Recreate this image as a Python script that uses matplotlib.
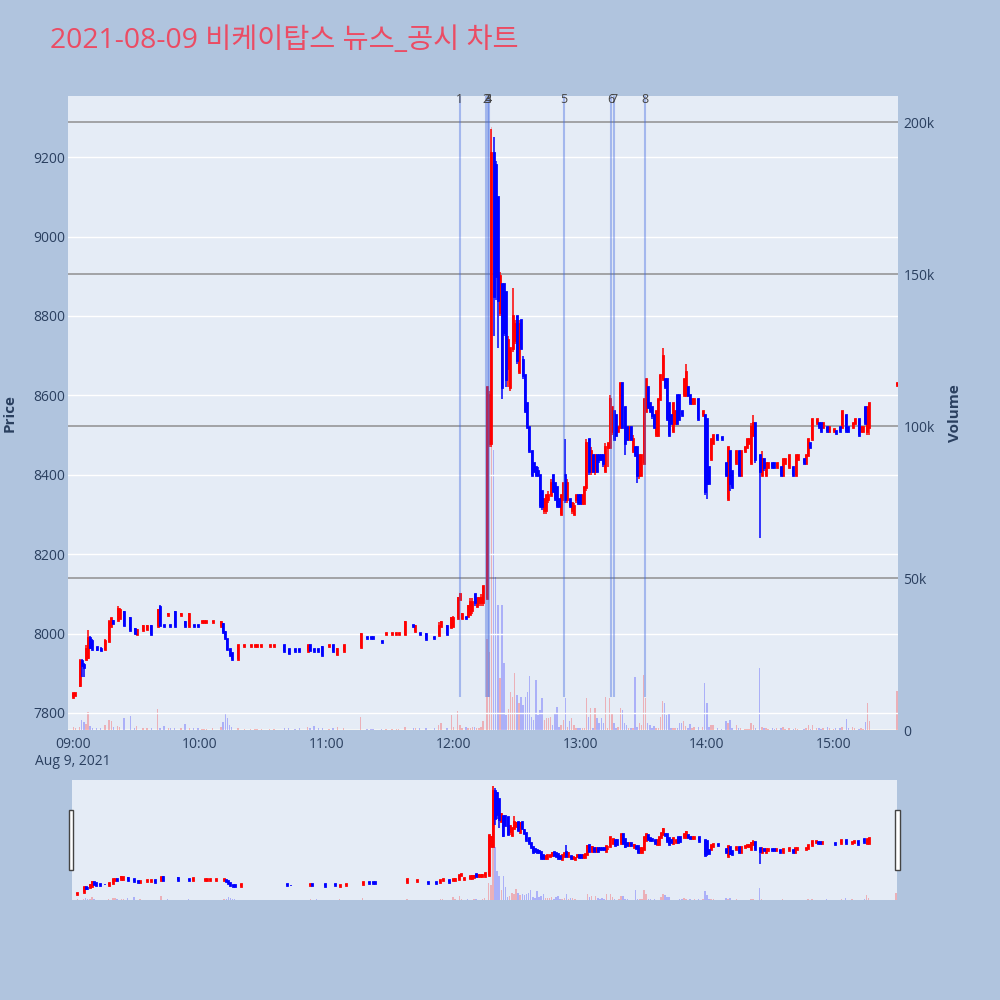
import matplotlib
matplotlib.use("Agg")
import matplotlib.pyplot as plt
import matplotlib.transforms as mtransforms
from matplotlib.patches import Rectangle

TITLE = "2021-08-09 비케이탑스 뉴스_공시 차트"

# minutes after 09:00, one candle per traded minute
minute = [
    0, 1, 3, 4, 5, 6, 7, 8, 9, 11,
    13, 15, 17, 18, 19, 21, 22, 24, 27, 29,
    30, 33, 35, 37, 40, 41, 43, 45, 46, 48,
    51, 53, 55, 57, 59, 61, 62, 63, 66, 70,
    71, 72, 73, 74, 75, 78, 81, 84, 86, 87,
    89, 93, 95, 100, 102, 105, 107, 111, 112, 114,
    116, 118, 121, 123, 125, 128, 136, 139, 141, 142,
    146, 148, 151, 153, 154, 157, 161, 162, 164, 167,
    171, 173, 174, 177, 179, 180, 182, 183, 184, 186,
    187, 188, 189, 190, 191, 192, 193, 194, 196, 197,
    198, 199, 200, 201, 202, 203, 204, 205, 206, 207,
    208, 209, 210, 211, 212, 213, 214, 215, 216, 217,
    218, 219, 220, 221, 222, 223, 224, 225, 226, 227,
    228, 229, 230, 231, 232, 233, 234, 235, 236, 237,
    238, 239, 240, 241, 242, 243, 244, 245, 246, 247,
    248, 249, 250, 251, 252, 253, 254, 255, 256, 257,
    258, 259, 260, 261, 262, 263, 264, 265, 266, 267,
    268, 269, 270, 271, 272, 273, 274, 275, 276, 277,
    278, 279, 280, 281, 282, 283, 284, 285, 286, 287,
    288, 289, 290, 291, 292, 293, 294, 296, 298, 299,
    300, 301, 302, 303, 305, 307, 309, 310, 311, 312,
    314, 315, 316, 318, 319, 320, 321, 322, 323, 325,
    326, 327, 328, 329, 331, 332, 333, 335, 336, 337,
    339, 341, 342, 343, 346, 347, 348, 349, 350, 352,
    353, 354, 355, 357, 358, 360, 361, 363, 364, 366,
    367, 369, 370, 372, 373, 374, 375, 376, 377, 390,
]

open_ = [
    7840, 7845, 7870, 7930, 7920, 7935, 7940, 7990, 7980, 7965,
    7962, 7960, 7980, 8020, 8032, 8035, 8040, 8055, 8040, 8012,
    8000, 8010, 8012, 8020, 8020, 8068, 8022, 8046, 8022, 8055,
    8046, 8030, 8020, 8022, 8022, 8028, 8028, 8028, 8028, 8020,
    8025, 8005, 7985, 7960, 7950, 7937, 7968, 7968, 7968, 7968,
    7968, 7968, 7968, 7970, 7960, 7960, 7960, 7957, 7970, 7960,
    7960, 7966, 7968, 7970, 7948, 7957, 7966, 7992, 7992, 7992,
    7982, 7998, 7998, 7998, 7998, 8000, 8022, 8007, 8002, 8000,
    7992, 7997, 8020, 8020, 8017, 8020, 8040, 8088, 8038, 8042,
    8045, 8050, 8060, 8100, 8070, 8080, 8080, 8080, 8090, 8480,
    8480, 9210, 9180, 9100, 8810, 8880, 8880, 8860, 8670, 8620,
    8720, 8740, 8800, 8660, 8790, 8690, 8650, 8580, 8520, 8460,
    8430, 8420, 8410, 8400, 8360, 8310, 8310, 8340, 8350, 8400,
    8380, 8370, 8340, 8300, 8340, 8400, 8340, 8340, 8310, 8300,
    8340, 8350, 8350, 8330, 8330, 8370, 8490, 8410, 8450, 8410,
    8450, 8450, 8450, 8450, 8410, 8470, 8470, 8510, 8560, 8550,
    8510, 8520, 8630, 8570, 8520, 8490, 8520, 8460, 8470, 8470,
    8400, 8400, 8430, 8560, 8620, 8580, 8570, 8550, 8500, 8500,
    8590, 8640, 8640, 8640, 8580, 8550, 8510, 8530, 8600, 8600,
    8560, 8600, 8600, 8620, 8600, 8580, 8580, 8590, 8550, 8550,
    8540, 8420, 8440, 8480, 8500, 8495, 8430, 8340, 8460, 8410,
    8430, 8460, 8400, 8460, 8470, 8480, 8430, 8500, 8530, 8450,
    8400, 8440, 8400, 8420, 8430, 8430, 8420, 8420, 8400, 8430,
    8420, 8420, 8400, 8440, 8440, 8430, 8450, 8480, 8490, 8530,
    8530, 8530, 8520, 8520, 8510, 8510, 8510, 8520, 8520, 8550,
    8520, 8520, 8530, 8540, 8510, 8510, 8570, 8510, 8520, 8625,
]

high = [
    7850, 7850, 7935, 7935, 7925, 7970, 8010, 7995, 7985, 7965,
    7965, 7985, 8035, 8040, 8035, 8070, 8065, 8058, 8042, 8014,
    8012, 8022, 8022, 8022, 8062, 8072, 8022, 8052, 8022, 8058,
    8052, 8032, 8052, 8022, 8022, 8032, 8032, 8032, 8032, 8032,
    8026, 8006, 7986, 7962, 7952, 7972, 7972, 7972, 7972, 7972,
    7972, 7972, 7972, 7972, 7962, 7960, 7960, 7972, 7972, 7960,
    7960, 7968, 7972, 7972, 7963, 7972, 8002, 7992, 7992, 7992,
    7982, 8002, 8002, 8002, 8002, 8032, 8022, 8022, 8002, 8002,
    7992, 8028, 8032, 8022, 8041, 8045, 8092, 8102, 8052, 8042,
    8072, 8090, 8090, 8100, 8090, 8090, 8100, 8120, 8620, 8610,
    9270, 9250, 9190, 9100, 8910, 8880, 8880, 8860, 8750, 8720,
    8870, 8790, 8800, 8790, 8790, 8700, 8650, 8580, 8520, 8460,
    8430, 8420, 8420, 8400, 8360, 8340, 8350, 8360, 8390, 8400,
    8380, 8370, 8340, 8350, 8380, 8490, 8390, 8340, 8330, 8330,
    8350, 8350, 8350, 8350, 8370, 8490, 8490, 8470, 8450, 8450,
    8450, 8450, 8450, 8450, 8480, 8480, 8600, 8570, 8560, 8550,
    8520, 8630, 8630, 8570, 8520, 8520, 8520, 8500, 8470, 8470,
    8450, 8450, 8590, 8640, 8620, 8580, 8570, 8550, 8560, 8590,
    8650, 8720, 8640, 8640, 8580, 8550, 8580, 8560, 8600, 8600,
    8560, 8640, 8680, 8620, 8600, 8590, 8590, 8590, 8560, 8550,
    8540, 8420, 8490, 8500, 8500, 8495, 8430, 8470, 8460, 8410,
    8460, 8460, 8460, 8470, 8490, 8490, 8530, 8550, 8530, 8450,
    8460, 8440, 8430, 8430, 8430, 8430, 8430, 8420, 8440, 8440,
    8450, 8420, 8450, 8450, 8440, 8450, 8490, 8480, 8540, 8540,
    8530, 8530, 8530, 8520, 8520, 8515, 8510, 8520, 8560, 8550,
    8520, 8530, 8540, 8540, 8520, 8520, 8570, 8570, 8580, 8630,
]

low = [
    7840, 7845, 7865, 7890, 7890, 7935, 7935, 7960, 7960, 7955,
    7955, 7958, 7978, 8018, 8025, 8033, 8038, 8020, 8008, 8000,
    7998, 8008, 8010, 8000, 8018, 8018, 8018, 8046, 8018, 8018,
    8046, 8018, 8018, 8018, 8018, 8028, 8028, 8028, 8028, 8018,
    8005, 7988, 7958, 7945, 7937, 7937, 7968, 7968, 7968, 7968,
    7968, 7968, 7968, 7955, 7948, 7956, 7956, 7955, 7956, 7956,
    7956, 7945, 7968, 7956, 7946, 7955, 7966, 7988, 7988, 7988,
    7978, 7998, 7998, 7998, 7998, 7997, 8018, 8006, 7998, 7986,
    7988, 7996, 8018, 7999, 8015, 8018, 8038, 8086, 8036, 8038,
    8043, 8050, 8050, 8070, 8070, 8070, 8070, 8070, 8090, 8470,
    8470, 8750, 8840, 8720, 8800, 8590, 8750, 8620, 8620, 8610,
    8710, 8730, 8680, 8660, 8720, 8640, 8560, 8520, 8460, 8400,
    8410, 8400, 8400, 8320, 8310, 8300, 8300, 8330, 8350, 8360,
    8340, 8320, 8320, 8300, 8340, 8330, 8330, 8320, 8300, 8300,
    8330, 8330, 8330, 8330, 8330, 8360, 8400, 8400, 8410, 8400,
    8410, 8430, 8440, 8420, 8410, 8420, 8470, 8500, 8490, 8500,
    8510, 8520, 8520, 8450, 8490, 8490, 8490, 8460, 8450, 8380,
    8390, 8400, 8430, 8560, 8570, 8560, 8540, 8520, 8500, 8500,
    8590, 8640, 8620, 8540, 8500, 8530, 8510, 8530, 8530, 8540,
    8550, 8600, 8600, 8600, 8580, 8580, 8580, 8540, 8550, 8350,
    8340, 8380, 8440, 8480, 8490, 8490, 8400, 8340, 8360, 8370,
    8430, 8400, 8400, 8460, 8470, 8480, 8430, 8500, 8430, 8240,
    8400, 8410, 8400, 8420, 8420, 8420, 8420, 8400, 8400, 8430,
    8420, 8400, 8400, 8440, 8430, 8430, 8450, 8470, 8490, 8530,
    8520, 8510, 8520, 8510, 8510, 8510, 8505, 8510, 8520, 8510,
    8510, 8520, 8530, 8500, 8510, 8510, 8530, 8500, 8500, 8625,
]

close = [
    7850, 7850, 7930, 7920, 7915, 7960, 7990, 7965, 7960, 7960,
    7958, 7980, 8030, 8038, 8027, 8062, 8060, 8022, 8010, 8002,
    8010, 8020, 8020, 8000, 8060, 8022, 8018, 8050, 8018, 8020,
    8050, 8020, 8050, 8018, 8018, 8032, 8032, 8032, 8032, 8030,
    8005, 7988, 7960, 7945, 7937, 7970, 7972, 7972, 7972, 7972,
    7972, 7972, 7972, 7957, 7950, 7956, 7956, 7970, 7958, 7956,
    7956, 7947, 7972, 7957, 7962, 7970, 8000, 7988, 7988, 7988,
    7978, 8002, 8002, 8002, 8002, 8030, 8018, 8020, 7998, 7987,
    7988, 8020, 8030, 8000, 8040, 8040, 8090, 8100, 8050, 8038,
    8070, 8080, 8080, 8080, 8090, 8090, 8090, 8120, 8620, 8600,
    9210, 8850, 8900, 8840, 8900, 8620, 8760, 8640, 8740, 8720,
    8800, 8780, 8690, 8780, 8720, 8650, 8560, 8520, 8460, 8400,
    8410, 8400, 8400, 8320, 8320, 8340, 8350, 8350, 8380, 8360,
    8340, 8320, 8320, 8350, 8380, 8340, 8380, 8320, 8330, 8320,
    8350, 8330, 8330, 8350, 8370, 8480, 8410, 8460, 8410, 8450,
    8410, 8440, 8440, 8430, 8470, 8480, 8590, 8570, 8490, 8500,
    8520, 8630, 8520, 8480, 8490, 8520, 8490, 8490, 8450, 8400,
    8450, 8450, 8590, 8640, 8570, 8560, 8550, 8520, 8560, 8590,
    8650, 8700, 8620, 8540, 8500, 8530, 8580, 8560, 8530, 8540,
    8550, 8640, 8660, 8600, 8580, 8590, 8590, 8540, 8560, 8360,
    8380, 8380, 8490, 8500, 8490, 8490, 8400, 8470, 8380, 8370,
    8460, 8400, 8460, 8470, 8490, 8490, 8520, 8530, 8440, 8410,
    8440, 8420, 8430, 8430, 8420, 8420, 8430, 8400, 8440, 8440,
    8450, 8400, 8450, 8450, 8430, 8450, 8490, 8470, 8540, 8540,
    8520, 8510, 8530, 8510, 8520, 8515, 8505, 8510, 8560, 8510,
    8510, 8530, 8540, 8500, 8520, 8520, 8530, 8570, 8580, 8630,
]

volume = [
    1100, 800, 900, 3300, 2500, 2000, 6000, 1200, 800, 500,
    600, 1500, 3300, 3000, 1000, 1200, 1100, 3900, 4600, 700,
    1300, 600, 500, 600, 6800, 700, 1400, 500, 600, 800,
    600, 2000, 700, 500, 600, 400, 400, 400, 500, 1000,
    2500, 5500, 4000, 1500, 900, 800, 400, 400, 300, 300,
    300, 300, 300, 600, 600, 400, 500, 900, 500, 1200,
    500, 500, 300, 600, 1000, 500, 4300, 300, 300, 300,
    300, 400, 400, 400, 400, 900, 500, 600, 600, 600,
    800, 1800, 2300, 700, 4900, 1000, 6200, 1500, 800, 900,
    600, 700, 900, 900, 600, 700, 900, 2800, 30000, 25700,
    198500, 92000, 50500, 41000, 17000, 41000, 21900, 5000, 7000, 12500,
    10900, 18600, 11400, 8800, 10900, 8300, 10900, 12500, 17800, 4400,
    3300, 16300, 4900, 6600, 10400, 3300, 3900, 3900, 4400, 1700,
    5500, 7700, 1000, 1600, 3300, 10400, 1000, 2800, 3900, 1600,
    800, 600, 600, 600, 800, 10400, 4400, 7100, 800, 7100,
    3900, 2200, 3900, 2200, 10900, 800, 10400, 5500, 2200, 800,
    1000, 7100, 6600, 2200, 1600, 600, 800, 600, 17500, 1000,
    2200, 1700, 18000, 10400, 2200, 1700, 800, 1200, 600, 800,
    4400, 9700, 8800, 4900, 5100, 600, 800, 800, 600, 2200,
    2200, 3000, 1200, 600, 2000, 800, 1000, 1000, 1000, 15600,
    9000, 1000, 1800, 1800, 500, 400, 2800, 2300, 3400, 600,
    1800, 500, 500, 400, 400, 400, 2300, 1800, 600, 20500,
    1000, 500, 600, 400, 500, 400, 500, 600, 1000, 400,
    500, 400, 600, 400, 400, 500, 1800, 400, 1600, 600,
    500, 400, 500, 1000, 500, 400, 600, 500, 1000, 3500,
    500, 1000, 500, 400, 500, 400, 2600, 8900, 3100, 12900,
]

# news / disclosure markers
news_minute = [183.0, 195.6, 196.5, 196.7, 232.4, 254.5, 255.9, 270.8]
news_label = ["1", "2", "3", "4", "5", "6", "7", "8"]

price_ticks = [7800, 8000, 8200, 8400, 8600, 8800, 9000, 9200]
volume_ticks = [0, 50000, 100000, 150000, 200000]
volume_labels = ["0", "50k", "100k", "150k", "200k"]
time_ticks = [0, 60, 120, 180, 240, 300, 360]
time_labels = ["09:00\nAug 9, 2021", "10:00", "11:00", "12:00",
               "13:00", "14:00", "15:00"]

UP = "#FF0000"
DOWN = "#0000FF"
PLOT_BG = "#E5ECF6"
PAPER_BG = "#B0C4DE"
TEXT = "#2a3f5f"
FONT = ["Open Sans", "DejaVu Sans"]
TITLE_FONT = ["Open Sans", "Noto Sans CJK KR", "DejaVu Sans"]

X_RANGE = (-2.5, 390.5)
PRICE_RANGE = (7757, 9354)
VOLUME_RANGE = (0, 208600)

plt.rcParams["font.family"] = FONT

rising = [c > o for o, c in zip(open_, close)]


def draw_candles(ax, body_lw=2.0, wick_lw=1.1):
    for up, color in ((True, UP), (False, DOWN)):
        idx = [i for i, r in enumerate(rising) if r == up]
        xs = [minute[i] for i in idx]
        ax.vlines(xs, [low[i] for i in idx], [high[i] for i in idx],
                  color=color, lw=wick_lw, zorder=3)
        body = ax.vlines(xs, [open_[i] for i in idx], [close[i] for i in idx],
                         color=color, lw=body_lw, zorder=3)
        body.set_capstyle("projecting")


def draw_volume(ax):
    colors = [UP if r else DOWN for r in rising]
    ax.bar(minute, volume, width=0.7, color=colors, alpha=0.25, lw=0, zorder=2)


fig = plt.figure(figsize=(10, 10), dpi=100)
fig.patch.set_facecolor(PAPER_BG)

# main panel: price on the left (drawn on top), volume on the right (below)
price_ax = fig.add_axes([0.068, 0.270, 0.830, 0.634])
vol_ax = price_ax.twinx()
vol_ax.set_zorder(0)
price_ax.set_zorder(1)
price_ax.patch.set_visible(False)
vol_ax.patch.set_visible(True)
vol_ax.set_facecolor(PLOT_BG)

for a in (price_ax, vol_ax):
    for s in a.spines.values():
        s.set_visible(False)

vol_ax.set_ylim(*VOLUME_RANGE)
vol_ax.set_yticks(volume_ticks, volume_labels)
vol_ax.yaxis.grid(True, color="#8f8f8f", lw=1.1)
vol_ax.set_axisbelow(True)
vol_ax.axhline(0, color="white", lw=2, zorder=1)
draw_volume(vol_ax)
vol_ax.tick_params(axis="y", length=0, pad=4, labelsize=10, labelcolor=TEXT)

price_ax.set_xlim(*X_RANGE)
price_ax.set_ylim(*PRICE_RANGE)
price_ax.set_yticks(price_ticks)
price_ax.yaxis.grid(True, color="white", lw=1.0)
price_ax.set_axisbelow(True)
price_ax.set_xticks(time_ticks, time_labels)
price_ax.tick_params(axis="y", length=0, pad=2, labelsize=10, labelcolor=TEXT)
price_ax.tick_params(axis="x", length=0, pad=5, labelsize=10, labelcolor=TEXT)
draw_candles(price_ax)

# news markers
top_tr = mtransforms.blended_transform_factory(price_ax.transData, price_ax.transAxes)
price_ax.vlines(news_minute, min(low), PRICE_RANGE[1], color="royalblue",
                alpha=0.4, lw=1.5, zorder=4)
for t, lab in zip(news_minute, news_label):
    price_ax.text(t, 0.995, lab, transform=top_tr, ha="center", va="center",
                  fontsize=9, color="#444444", zorder=5, clip_on=False)

fig.text(0.010, 0.587, "Price", rotation=90, ha="center", va="center",
         fontsize=11, fontweight="bold", color=TEXT)
fig.text(0.955, 0.587, "Volume", rotation=90, ha="center", va="center",
         fontsize=11, fontweight="bold", color=TEXT)

# range slider
slider = fig.add_axes([0.072, 0.100, 0.825, 0.120])
slider.set_facecolor(PLOT_BG)
slider_vol = slider.twinx()
for a in (slider, slider_vol):
    for s in a.spines.values():
        s.set_visible(False)
    a.set_xticks([])
    a.set_yticks([])
slider.set_xlim(*X_RANGE)
slider.set_ylim(*PRICE_RANGE)
slider_vol.set_ylim(*VOLUME_RANGE)
draw_candles(slider)
draw_volume(slider_vol)

for hx in (0.0685, 0.895):
    fig.add_artist(Rectangle((hx, 0.130), 0.0045, 0.060, transform=fig.transFigure,
                             facecolor="white", edgecolor="#444444", lw=1.0))

fig.text(0.050, 0.959, TITLE, ha="left", va="center", fontsize=20.4,
         color="#EB4C64", family=TITLE_FONT)

fig.savefig("out.png", dpi=100, facecolor=PAPER_BG)
